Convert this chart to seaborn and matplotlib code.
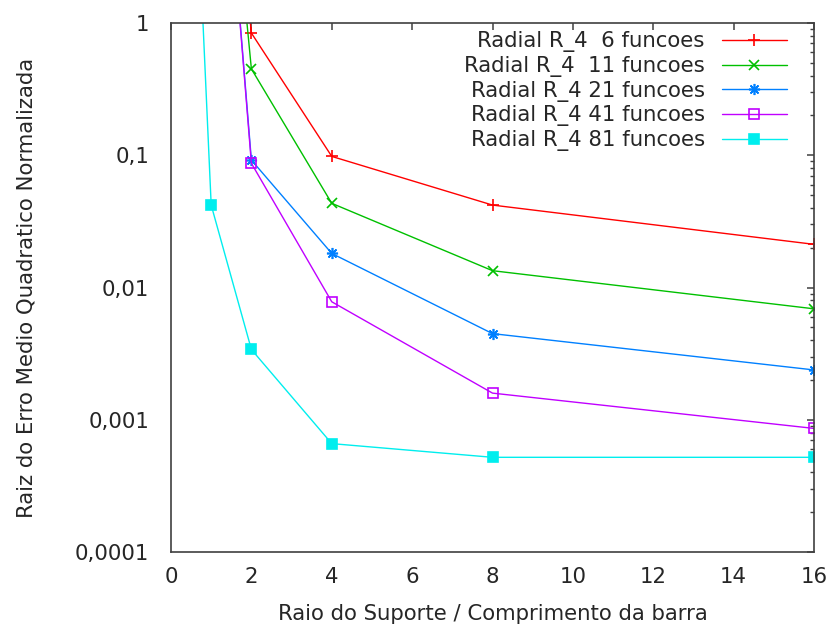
import numpy as np
import pandas as pd
import matplotlib
matplotlib.use("Agg")
import matplotlib.pyplot as plt
import seaborn as sns
from matplotlib.ticker import FixedLocator, FuncFormatter, LogLocator, NullFormatter

# ---- data ----
labels = ["Radial R_4  6 funcoes", "Radial R_4  11 funcoes", "Radial R_4 21 funcoes",
          "Radial R_4 41 funcoes", "Radial R_4 81 funcoes"]
x_r6 = [1, 2, 4, 8, 16]
y_r6 = [1000, 0.84, 0.098, 0.042, 0.0212]
x_r11 = [1, 2, 4, 8, 16]
y_r11 = [640, 0.45, 0.0433, 0.0134, 0.0069]
x_r21 = [1, 2, 4, 8, 16]
y_r21 = [500, 0.092, 0.0181, 0.00448, 0.00238]
x_r41 = [1, 2, 4, 8, 16]
y_r41 = [500, 0.087, 0.0078, 0.00159, 0.00086]
x_r81 = [0.5, 1, 2, 4, 8, 16]
y_r81 = [100, 0.042, 0.0034, 0.00066, 0.00052, 0.00052]

xs = [x_r6, x_r11, x_r21, x_r41, x_r81]
ys = [y_r6, y_r11, y_r21, y_r41, y_r81]

colors = ["#ff0000", "#00c000", "#0080ff", "#c000ff", "#00eeee"]
markers = ["+", "x", (8, 2, 0), "s", "s"]
msizes = [9, 7, 8, 7, 7]
filled = [True, True, True, False, True]

xticks = [0, 2, 4, 6, 8, 10, 12, 14, 16]
yticks = [1e-4, 1e-3, 1e-2, 1e-1, 1]

sns.set_style("white")
plt.rcParams["font.family"] = ["DejaVu Sans"]
FS = 15.3
TXT = "#262626"

fig = plt.figure(figsize=(8.26, 6.31), dpi=100)
ax = fig.add_axes([171 / 826, 1 - 552 / 631, (814 - 171) / 826, (552 - 23) / 631])

for lab, x, y, c, m, ms, f in zip(labels, xs, ys, colors, markers, msizes, filled):
    df = pd.DataFrame({"x": x, "y": y})
    kw = dict(color=c, marker=m, markersize=ms, linewidth=1.0, label=lab,
              markeredgecolor=c, markeredgewidth=1.2)
    kw["markerfacecolor"] = c if f else "none"
    sns.lineplot(data=df, x="x", y="y", ax=ax, sort=True, estimator=None, **kw)

ax.set_yscale("log")
ax.set_xlim(0, 16)
ax.set_ylim(1e-4, 1)

ax.xaxis.set_major_locator(FixedLocator(xticks))
ax.yaxis.set_major_locator(FixedLocator(yticks))
ax.yaxis.set_minor_locator(LogLocator(base=10, subs=np.arange(2, 10)))
ax.yaxis.set_minor_formatter(NullFormatter())


def fmt(v, pos):
    if v >= 1:
        return "%g" % v
    s = ("%.10f" % v).rstrip("0")
    return s.replace(".", ",")


ax.yaxis.set_major_formatter(FuncFormatter(fmt))
ax.xaxis.set_major_formatter(FuncFormatter(lambda v, p: "%g" % v))

spine_c = "#404040"
for s in ax.spines.values():
    s.set_color(spine_c)
    s.set_linewidth(1.2)

ax.tick_params(which="both", direction="in", top=True, right=True, colors=spine_c,
               labelcolor=TXT, labelsize=FS)
ax.tick_params(which="major", length=5, width=1.1)
ax.tick_params(which="minor", length=3, width=1.0)
ax.tick_params(axis="y", which="major", pad=15.5)
ax.tick_params(axis="x", which="major", pad=11)

ax.set_xlabel("Raio do Suporte / Comprimento da barra", fontsize=FS, color=TXT)
ax.set_ylabel("Raiz do Erro Medio Quadratico Normalizada", fontsize=FS, color=TXT)
ax.xaxis.set_label_coords(0.5, -(604 - 552) / 529)
ax.yaxis.set_label_coords(-(171 - 37) / 643, 0.5)

leg = ax.legend(loc="upper right", markerfirst=False, frameon=False, fontsize=FS,
                handlelength=3.06, handletextpad=0.8, labelspacing=0.17,
                borderaxespad=0.0, borderpad=0.4, bbox_to_anchor=(0.971, 1.0))
for t in leg.get_texts():
    t.set_color(TXT)

fig.savefig("out.png", dpi=100, facecolor="white")
